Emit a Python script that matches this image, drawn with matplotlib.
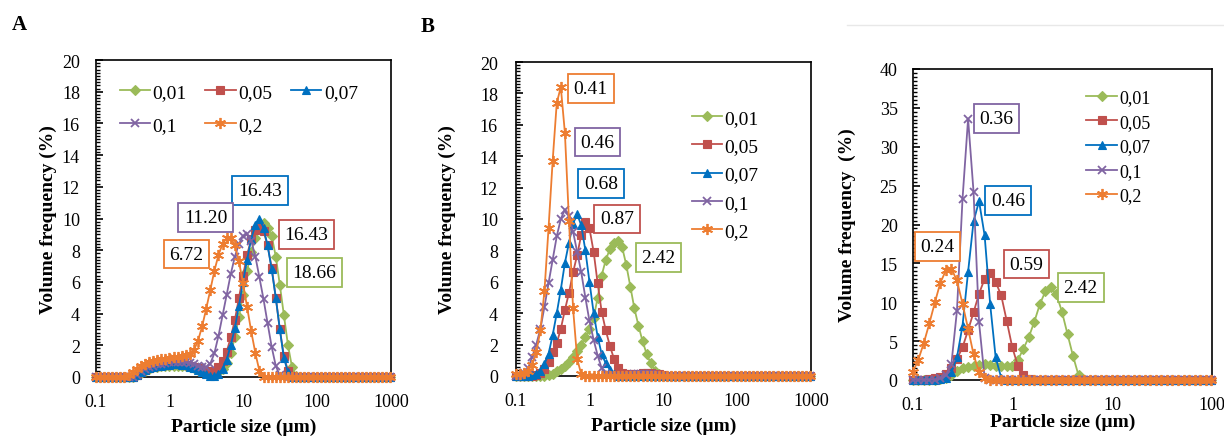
import matplotlib
matplotlib.use("Agg")
import matplotlib.pyplot as plt
from matplotlib.lines import Line2D
from matplotlib.ticker import MultipleLocator, FixedLocator, FixedFormatter, NullLocator

plt.rcParams['font.family'] = ['Liberation Serif', 'DejaVu Serif']

# Particle size classes (µm)
sizes = [0.0995, 0.113, 0.128, 0.146, 0.166, 0.188, 0.214, 0.243, 0.276, 0.314,
         0.357, 0.405, 0.460, 0.523, 0.594, 0.675, 0.767, 0.872, 0.991, 1.13,
         1.28, 1.45, 1.65, 1.88, 2.13, 2.42, 2.75, 3.12, 3.55, 4.03,
         4.58, 5.21, 5.92, 6.72, 7.64, 8.68, 9.86, 11.2, 12.7, 14.5,
         16.4, 18.7, 21.2, 24.1, 27.4, 31.1, 35.3, 40.1, 45.6, 51.8,
         58.9, 66.9, 76.0, 86.4, 98.1, 111, 127, 144, 163, 186,
         211, 240, 272, 310, 352, 400, 454, 516, 586, 666,
         756, 859, 976]

series_names = ["0,01", "0,05", "0,07", "0,1", "0,2"]

# ---------------- Panel A ----------------
A_001 = [0, 0, 0, 0, 0, 0, 0, 0, 0, 0,
         .1, .25, .4, .5, .6, .65, .7, .7, .72, .72,
         .72, .7, .68, .62, .55, .45, .35, .25, .2, .2,
         .3, .5, .9, 1.5, 2.5, 3.8, 5.2, 6.7, 7.9, 8.8,
         9.4, 9.7, 9.4, 8.9, 7.6, 5.8, 3.9, 2.0, .6, .05,
         0, 0, 0, 0, 0, 0, 0, 0, 0, 0,
         0, 0, 0, 0, 0, 0, 0, 0, 0, 0,
         0, 0, 0]
A_005 = [0, 0, 0, 0, 0, 0, 0, 0, 0, 0,
         .1, .3, .45, .55, .65, .7, .75, .78, .8, .82,
         .82, .8, .78, .72, .65, .55, .45, .38, .35, .4,
         .6, 1.0, 1.6, 2.5, 3.6, 5.0, 6.4, 7.7, 8.7, 9.3,
         9.4, 9.2, 8.3, 6.9, 5.0, 3.0, 1.3, .4, .05, 0,
         0, 0, 0, 0, 0, 0, 0, 0, 0, 0,
         0, 0, 0, 0, 0, 0, 0, 0, 0, 0,
         0, 0, 0]
A_007 = [0, 0, 0, 0, 0, 0, 0, 0, 0, .02,
         .1, .3, .45, .55, .62, .68, .72, .75, .78, .8,
         .8, .78, .74, .66, .55, .42, .3, .18, .08, .05,
         .2, .5, 1.1, 2.0, 3.1, 4.5, 6.0, 7.4, 8.7, 9.6,
         10.0, 9.4, 8.3, 6.8, 5.0, 3.0, 1.2, .3, .02, 0,
         0, 0, 0, 0, 0, 0, 0, 0, 0, 0,
         0, 0, 0, 0, 0, 0, 0, 0, 0, 0,
         0, 0, 0]
A_01 = [0, 0, 0, 0, 0, 0, 0, 0, 0, .02,
        .15, .35, .5, .62, .72, .8, .85, .9, .92, .95,
        .95, .95, .92, .88, .8, .7, .6, .6, .85, 1.5,
        2.6, 3.9, 5.2, 6.5, 7.6, 8.4, 8.9, 9.0, 8.6, 7.6,
        6.3, 4.9, 3.4, 1.9, .7, .1, 0, 0, 0, 0,
        0, 0, 0, 0, 0, 0, 0, 0, 0, 0,
        0, 0, 0, 0, 0, 0, 0, 0, 0, 0,
        0, 0, 0]
A_02 = [0, 0, 0, 0, 0, 0, 0, .02, .1, .3,
        .5, .7, .85, .95, 1.02, 1.08, 1.12, 1.16, 1.2, 1.24,
        1.28, 1.32, 1.36, 1.42, 1.7, 2.3, 3.2, 4.3, 5.5, 6.7,
        7.7, 8.4, 8.75, 8.8, 8.3, 7.3, 5.9, 4.4, 2.9, 1.5,
        .4, 0, 0, 0, 0, 0, 0, 0, 0, 0,
        0, 0, 0, 0, 0, 0, 0, 0, 0, 0,
        0, 0, 0, 0, 0, 0, 0, 0, 0, 0,
        0, 0, 0]

# ---------------- Panel B ----------------
B_001 = [0, 0, 0, 0, 0, 0, 0, 0, .05, .15,
         .3, .45, .65, .9, 1.2, 1.6, 2.0, 2.5, 3.0, 3.7,
         5.0, 6.4, 7.4, 8.1, 8.5, 8.6, 8.2, 7.1, 5.7, 4.3,
         3.2, 2.2, 1.4, .8, .35, .1, .02, 0, 0, 0,
         0, 0, 0, 0, 0, 0, 0, 0, 0, 0,
         0, 0, 0, 0, 0, 0, 0, 0, 0, 0,
         0, 0, 0, 0, 0, 0, 0, 0, 0, 0,
         0, 0, 0]
B_005 = [0, 0, 0, 0, 0, .05, .2, .45, .9, 1.5,
         2.1, 3.0, 4.2, 5.3, 6.6, 7.7, 9.0, 9.8, 9.4, 7.9,
         5.9, 4.1, 2.9, 1.9, 1.1, .5, .2, .1, .1, .12,
         .15, .2, .2, .2, .15, .1, .05, 0, 0, 0,
         0, 0, 0, 0, 0, 0, 0, 0, 0, 0,
         0, 0, 0, 0, 0, 0, 0, 0, 0, 0,
         0, 0, 0, 0, 0, 0, 0, 0, 0, 0,
         0, 0, 0]
B_007 = [0, 0, 0, 0, .05, .15, .35, .75, 1.4, 2.6,
         4.0, 5.5, 7.2, 8.5, 9.7, 10.3, 9.6, 8.0, 6.0, 4.0,
         2.5, 1.4, .8, .4, .15, 0, 0, 0, 0, 0,
         0, 0, 0, 0, 0, 0, 0, 0, 0, 0,
         0, 0, 0, 0, 0, 0, 0, 0, 0, 0,
         0, 0, 0, 0, 0, 0, 0, 0, 0, 0,
         0, 0, 0, 0, 0, 0, 0, 0, 0, 0,
         0, 0, 0]
B_01 = [0, .05, .2, .5, 1.2, 2.0, 3.0, 4.4, 5.9, 7.4,
        8.9, 10.0, 10.6, 10.2, 9.2, 7.9, 6.6, 5.0, 3.5, 2.3,
        1.3, .5, .15, .05, 0, 0, 0, 0, .05, .1,
        .15, .15, .15, .1, .05, 0, 0, 0, 0, 0,
        0, 0, 0, 0, 0, 0, 0, 0, 0, 0,
        0, 0, 0, 0, 0, 0, 0, 0, 0, 0,
        0, 0, 0, 0, 0, 0, 0, 0, 0, 0,
        0, 0, 0]
B_02 = [.1, .1, .2, .35, .7, 1.5, 2.9, 5.4, 9.4, 13.7,
        17.4, 18.4, 15.5, 9.9, 4.3, 1.1, .1, 0, 0, 0,
        0, 0, 0, 0, 0, 0, 0, 0, 0, 0,
        0, 0, 0, 0, 0, 0, 0, 0, 0, 0,
        0, 0, 0, 0, 0, 0, 0, 0, 0, 0,
        0, 0, 0, 0, 0, 0, 0, 0, 0, 0,
        0, 0, 0, 0, 0, 0, 0, 0, 0, 0,
        0, 0, 0]

# ---------------- Panel C (0.1 - 100 µm) ----------------
C_001 = [0, 0, 0, 0, 0, .1, .3, .7, 1.2, 1.5,
         1.7, 1.85, 1.95, 2.0, 1.95, 1.85, 1.8, 1.75, 1.8, 2.6,
         4.0, 5.5, 7.5, 9.8, 11.4, 11.9, 11.0, 8.8, 5.9, 3.1,
         .6, .05, 0, 0, 0, 0, 0, 0, 0, 0,
         0, 0, 0, 0, 0, 0, 0, 0, 0, 0,
         0, 0, 0, 0, 0]
C_005 = [0, 0, .05, .1, .2, .35, .8, 1.6, 2.7, 4.2,
         6.4, 8.7, 11.1, 13.0, 13.7, 12.6, 10.9, 7.6, 4.2, 1.8,
         .6, .1, 0, 0, 0, 0, 0, 0, 0, 0,
         0, 0, 0, 0, 0, 0, 0, 0, 0, 0,
         0, 0, 0, 0, 0, 0, 0, 0, 0, 0,
         0, 0, 0, 0, 0]
C_007 = [.02, .02, .02, .02, .02, .1, .3, 1.0, 2.9, 7.0,
         13.9, 20.4, 23.0, 18.6, 9.8, 2.9, .3, 0, 0, 0,
         0, 0, 0, 0, 0, 0, 0, 0, 0, 0,
         0, 0, 0, 0, 0, 0, 0, 0, 0, 0,
         0, 0, 0, 0, 0, 0, 0, 0, 0, 0,
         0, 0, 0, 0, 0]
C_01 = [.02, .02, .02, .02, .05, .2, .6, 2.1, 8.9, 23.3,
        33.6, 24.2, 7.4, .3, 0, 0, 0, 0, 0, 0,
        0, 0, 0, 0, 0, 0, 0, 0, 0, 0,
        0, 0, 0, 0, 0, 0, 0, 0, 0, 0,
        0, 0, 0, 0, 0, 0, 0, 0, 0, 0,
        0, 0, 0, 0, 0]
C_02 = [1.0, 2.6, 4.7, 7.3, 10.0, 12.5, 14.1, 14.3, 12.8, 9.8,
        6.6, 3.3, 1.0, .2, 0, 0, 0, 0, 0, 0,
        0, 0, 0, 0, 0, 0, 0, 0, 0, 0,
        0, 0, 0, 0, 0, 0, 0, 0, 0, 0,
        0, 0, 0, 0, 0, 0, 0, 0, 0, 0,
        0, 0, 0, 0, 0]

# Mode annotations: (text, x, y, series index)
A_notes = [("16.43", 16.6, 11.75, 2), ("11.20", 3.09, 10.05, 3), ("16.43", 71.0, 9.0, 1),
           ("6.72", 1.69, 7.75, 4), ("18.66", 92.0, 6.6, 0)]
B_notes = [("0.41", 1.03, 18.3, 4), ("0.46", 1.28, 14.9, 3), ("0.68", 1.43, 12.25, 2),
           ("0.87", 2.33, 10.0, 1), ("2.42", 8.55, 7.55, 0)]
C_notes = [("0.36", 0.69, 33.6, 3), ("0.46", 0.90, 23.05, 2), ("0.24", 0.176, 17.2, 4),
           ("0.59", 1.38, 14.9, 1), ("2.42", 4.82, 11.9, 0)]

colors = ["#9BBB59", "#C0504D", "#0070C0", "#8064A2", "#ED7D31"]
markers = ["D", "s", "^", "x", (6, 2, 0)]
msizes = [5.2, 5.5, 6.2, 6.0, 8.0]

fig = plt.figure(figsize=(12.24, 4.39), dpi=100)
W, H = 1224.0, 439.0


def make_axes(l, r, t, b):
    return fig.add_axes([l / W, 1 - b / H, (r - l) / W, (b - t) / H])


axA = make_axes(96, 391, 61, 378)
axB = make_axes(516, 811, 63, 377)
axC = make_axes(913, 1212, 70, 381)

# ax, data, notes, ymax, major, minor, xticks, ylabel, ytick pad, ylabel pad, xlabel pad
panels = [
    (axA, [A_001, A_005, A_007, A_01, A_02], A_notes, 20, 2, 0.2, [0.1, 1, 10, 100, 1000],
     "Volume frequency (%)", 11.5, 3.5, 5.5),
    (axB, [B_001, B_005, B_007, B_01, B_02], B_notes, 20, 2, 0.2, [0.1, 1, 10, 100, 1000],
     "Volume frequency (%)", 13, 17, 5.5),
    (axC, [C_001, C_005, C_007, C_01, C_02], C_notes, 40, 5, 0.5, [0.1, 1, 10, 100],
     "Volume frequency  (%)", 11, 17, 0),
]

for ax, data, notes, ymax, ymaj, ymin_step, xt, ylab, ypad, ylpad, xlpad in panels:
    for i, ys in enumerate(data):
        thin = markers[i] == "x" or isinstance(markers[i], tuple)
        ax.plot(sizes[:len(ys)], ys, color=colors[i], marker=markers[i], ms=msizes[i],
                mew=1.3 if thin else 0.8, mec=colors[i], mfc=colors[i], lw=1.3,
                label=series_names[i], clip_on=False, zorder=3 + i)
    ax.set_xscale("log")
    ax.set_xlim(xt[0], xt[-1])
    ax.set_ylim(0, ymax)
    ax.xaxis.set_major_locator(FixedLocator(xt))
    ax.xaxis.set_major_formatter(FixedFormatter([("%g" % v) for v in xt]))
    ax.xaxis.set_minor_locator(NullLocator())
    ax.yaxis.set_major_locator(MultipleLocator(ymaj))
    ax.yaxis.set_minor_locator(MultipleLocator(ymin_step))
    ax.tick_params(axis="x", length=0, labelsize=13, pad=11.5)
    ax.tick_params(axis="y", which="major", direction="in", length=5, width=1.2, labelsize=13, pad=ypad)
    ax.tick_params(axis="y", which="minor", direction="in", length=3, width=1.0)
    for sp in ax.spines.values():
        sp.set_linewidth(1.2)
        sp.set_color("black")
    ax.set_xlabel("Particle size (µm)", fontsize=14, fontweight="bold", labelpad=xlpad)
    ax.set_ylabel(ylab, fontsize=14, fontweight="bold", labelpad=ylpad)
    for txt, x, y, ci in notes:
        ax.text(x, y, txt, ha="center", va="center", fontsize=14, zorder=20,
                bbox=dict(boxstyle="square,pad=0.3", fc="white", ec=colors[ci], lw=1.3))

# Legends
hA, lA = axA.get_legend_handles_labels()
order = [0, 3, 1, 4, 2]  # row-major display in 3 columns
axA.legend([hA[k] for k in order], [lA[k] for k in order], loc="upper left",
           bbox_to_anchor=(0.08, 0.926), ncol=3, frameon=False, fontsize=14,
           handlelength=1.55, handletextpad=0.15, columnspacing=0.95, labelspacing=0.8,
           borderpad=0.0, borderaxespad=0.0)
axB.legend(loc="upper left", bbox_to_anchor=(0.595, 0.85), ncol=1, frameon=False, fontsize=14,
           handlelength=1.55, handletextpad=0.15, labelspacing=0.55, borderpad=0.0,
           borderaxespad=0.0)
axC.legend(loc="upper left", bbox_to_anchor=(0.58, 0.935), ncol=1, frameon=False, fontsize=13,
           handlelength=1.7, handletextpad=0.15, labelspacing=0.42, borderpad=0.0,
           borderaxespad=0.0)

fig.text(12 / W, 1 - 25 / H, "A", fontsize=15, fontweight="bold", ha="left", va="center")
fig.text(421 / W, 1 - 27 / H, "B", fontsize=15, fontweight="bold", ha="left", va="center")
fig.add_artist(Line2D([847 / W, 1.0], [1 - 26 / H, 1 - 26 / H], color="#e8e8e8", lw=1))

fig.savefig("out.png", dpi=100, facecolor="white")
